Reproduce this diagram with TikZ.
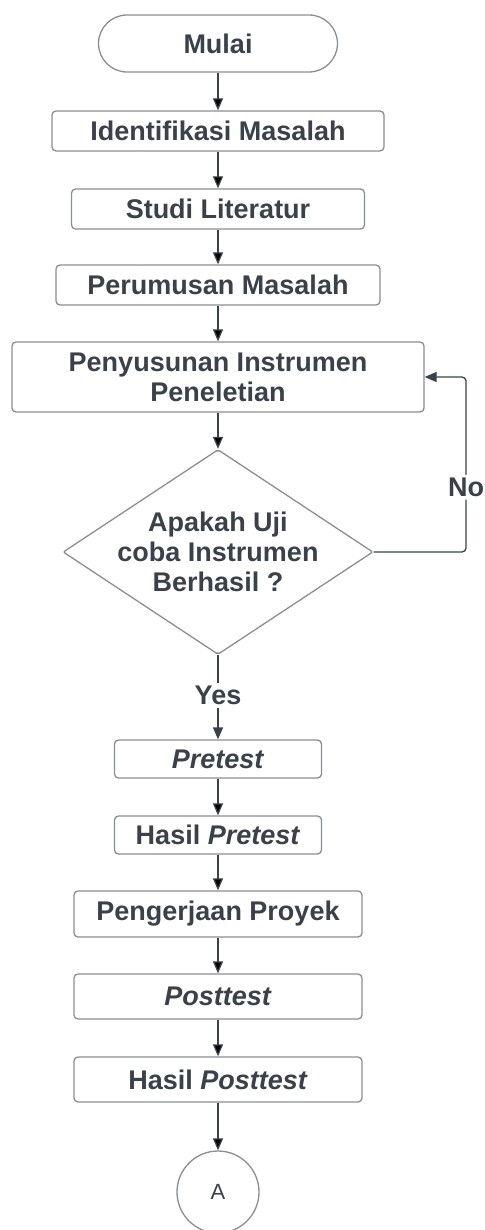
\documentclass[tikz,border=0pt]{standalone}
\usepackage{fontspec}
\setmainfont{Liberation Sans}
\usetikzlibrary{shapes.geometric,arrows.meta}
\definecolor{garis}{HTML}{8A8E94}
\definecolor{tinta}{HTML}{3A414B}
\begin{document}
\begin{tikzpicture}[x=1pt, y=-1pt, >={Triangle[length=12pt,width=10pt]},
  font=\fontsize{27}{30}\selectfont\bfseries]
\tikzstyle{kotak}=[draw=garis, line width=1.3pt, rounded corners=4pt, text=tinta, align=center, inner sep=0pt];
\tikzstyle{panah}=[->, draw=tinta, line width=1.3pt];
\tikzstyle{keterangan}=[fill=white, text=tinta, inner sep=3pt];
\useasboundingbox (0,0) rectangle (484,1230);

\node[kotak, rounded corners=28.5pt, minimum width=239pt, minimum height=57pt] (mulai) at (218,43.5) {Mulai};
\node[kotak, minimum width=332pt, minimum height=40pt] (identifikasi) at (218,131) {Identifikasi Masalah};
\node[kotak, minimum width=293pt, minimum height=40pt] (studi) at (218,209) {Studi Literatur};
\node[kotak, minimum width=324pt, minimum height=40pt] (perumusan) at (218,285) {Perumusan Masalah};
\node[kotak, minimum width=412pt, minimum height=70pt] (susun) at (218,377) {Penyusunan Instrumen\\Peneletian};
\node[kotak, diamond, rounded corners=2pt, shape aspect=1.51, inner sep=-9pt,
  minimum width=310pt, minimum height=205pt] (uji) at (218,552) {Apakah Uji\\coba Instrumen\\Berhasil ?};
\node[kotak, minimum width=207pt, minimum height=38pt] (pretest) at (218,759) {\textit{Pretest}};
\node[kotak, minimum width=207pt, minimum height=38pt] (hasilpre) at (218,835) {Hasil \textit{Pretest}};
\node[kotak, minimum width=288pt, minimum height=46pt] (proyek) at (218,914) {Pengerjaan Proyek};
\node[kotak, minimum width=288pt, minimum height=45pt] (posttest) at (218,996.5) {\textit{Posttest}};
\node[kotak, minimum width=288pt, minimum height=45pt] (hasilpost) at (218,1079.5) {Hasil \textit{Posttest}};
\node[kotak, circle, minimum size=82pt, font=\fontsize{22}{24}\selectfont] (a) at (218,1192) {A};
\coordinate (belok) at (466,552);

\draw[panah] (mulai) edge (identifikasi);
\draw[panah] (identifikasi) edge (studi);
\draw[panah] (studi) edge (perumusan);
\draw[panah] (perumusan) edge (susun);
\draw[panah] (susun) edge (uji);
\draw[panah] (uji) -- node[keterangan, pos=0.48] {Yes} (pretest);
\draw[panah, rounded corners=4pt] (uji.east) -- (belok) -- node[keterangan, pos=0.37] {No} (belok |- susun.east) -- (susun.east);
\draw[panah] (pretest) edge (hasilpre);
\draw[panah] (hasilpre) edge (proyek);
\draw[panah] (proyek) edge (posttest);
\draw[panah] (posttest) edge (hasilpost);
\draw[panah] (hasilpost) edge (a);
\end{tikzpicture}
\end{document}
